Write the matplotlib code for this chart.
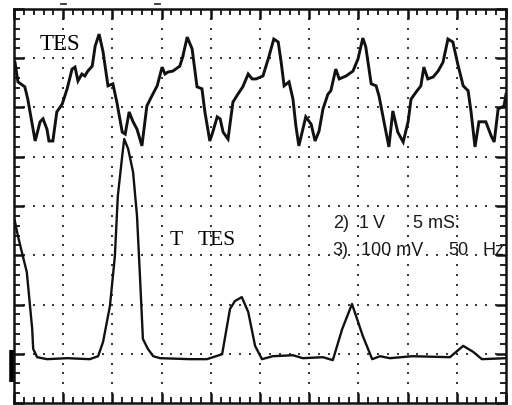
import numpy as np
import matplotlib.pyplot as plt
from matplotlib.ticker import MultipleLocator

# Oscilloscope screen: 10 x 8 divisions, 5 ms/div
# channel 2 (TES) - upper trace, in divisions
tes_t = [0.00, 0.02, 0.08, 0.22, 0.28, 0.43, 0.53, 0.59, 0.67, 0.71, 0.79, 0.87, 0.98,
         1.08, 1.18, 1.24, 1.30, 1.38, 1.44, 1.50, 1.59, 1.65, 1.73, 1.81, 1.91, 2.01,
         2.09, 2.20, 2.26, 2.34, 2.42, 2.50, 2.60, 2.70, 2.80, 2.91, 3.01, 3.07, 3.13,
         3.23, 3.37, 3.43, 3.52, 3.62, 3.72, 3.82, 3.88, 3.98, 4.04, 4.13, 4.19, 4.25,
         4.35, 4.45, 4.55, 4.65, 4.76, 4.84, 4.92, 5.06, 5.18, 5.28, 5.37, 5.43, 5.49,
         5.59, 5.67, 5.73, 5.79, 5.93, 6.04, 6.12, 6.20, 6.28, 6.38, 6.44, 6.54, 6.61,
         6.75, 6.89, 6.99, 7.09, 7.15, 7.26, 7.36, 7.42, 7.52, 7.62, 7.70, 7.80, 7.91,
         8.01, 8.07, 8.17, 8.27, 8.33, 8.41, 8.52, 8.62, 8.72, 8.82, 8.92, 9.02, 9.13,
         9.23, 9.29, 9.37, 9.45, 9.59, 9.70, 9.76, 9.84, 9.96, 10.00]
tes_v = [6.94, 6.92, 6.52, 6.42, 6.17, 5.32, 5.71, 5.77, 5.56, 5.32, 5.32, 5.91, 6.07,
         6.38, 6.78, 6.82, 6.54, 6.68, 6.64, 6.74, 6.84, 7.25, 7.49, 7.13, 6.44, 6.48,
         6.11, 5.50, 5.46, 5.91, 5.71, 5.56, 5.22, 6.03, 6.23, 6.44, 6.82, 6.68, 6.72,
         6.74, 6.84, 7.03, 7.43, 7.19, 6.42, 6.38, 5.91, 5.32, 5.50, 5.81, 5.77, 5.50,
         5.36, 6.11, 6.27, 6.42, 6.68, 6.58, 6.58, 6.64, 7.03, 7.39, 7.33, 6.92, 6.44,
         6.52, 6.17, 5.62, 5.22, 5.81, 5.66, 5.32, 5.52, 5.97, 6.27, 6.34, 6.78, 6.58,
         6.64, 6.74, 6.98, 7.41, 7.23, 6.48, 6.44, 6.23, 5.71, 5.20, 5.93, 5.50, 5.30,
         5.71, 6.17, 6.31, 6.44, 6.82, 6.58, 6.62, 6.74, 6.92, 7.39, 7.33, 6.88, 6.44,
         6.34, 5.91, 5.20, 5.71, 5.71, 5.42, 5.30, 5.97, 6.03, 6.27]

# channel 3 (T TES) - lower trace, in divisions
ttes_t = [0.00, 0.02, 0.08, 0.18, 0.26, 0.37, 0.39, 0.47, 0.67, 1.08, 1.54, 1.71, 1.81,
          1.95, 2.05, 2.11, 2.20, 2.24, 2.32, 2.42, 2.50, 2.56, 2.62, 2.72, 2.83, 2.97,
          3.58, 3.92, 4.23, 4.39, 4.49, 4.63, 4.76, 4.90, 5.04, 5.26, 5.67, 5.87, 6.28,
          6.48, 6.67, 6.87, 7.09, 7.28, 7.44, 7.64, 8.09, 8.86, 9.13, 9.33, 9.51, 10.00]
ttes_v = [3.75, 3.68, 3.39, 2.98, 2.66, 1.50, 1.10, 0.93, 0.89, 0.91, 0.89, 0.95, 1.24,
          1.97, 2.98, 4.20, 5.02, 5.36, 5.16, 4.69, 3.80, 2.58, 1.30, 1.10, 0.95, 0.91,
          0.89, 0.89, 0.99, 1.91, 2.07, 2.15, 1.85, 1.16, 0.89, 0.95, 0.97, 0.91, 0.93,
          0.87, 1.50, 2.01, 1.36, 0.89, 0.95, 0.91, 0.95, 0.93, 1.16, 1.04, 0.89, 0.91]

fig = plt.figure(figsize=(5.12, 4.05), dpi=100)
ax = fig.add_axes([14 / 512, 2 / 405, 492 / 512, 394 / 405])
ax.set_xlim(0, 10)
ax.set_ylim(0, 8)

# dotted graticule
gx, gy = [], []
for k in range(1, 10):
    for y in np.arange(0.2, 8.0, 0.2):
        gx.append(k)
        gy.append(y)
for k in range(1, 8):
    for x in np.arange(0.2, 10.0, 0.2):
        gx.append(x)
        gy.append(k)
ax.scatter(gx, gy, s=3.0, marker='s', color='#3a3a3a', linewidths=0, zorder=1)

ax.plot(tes_t, tes_v, color='#111111', lw=2.1, solid_joinstyle='miter', zorder=3)
ax.plot(ttes_t, ttes_v, color='#111111', lw=1.7, zorder=3)

# frame ticks
ax.xaxis.set_major_locator(MultipleLocator(1))
ax.xaxis.set_minor_locator(MultipleLocator(0.2))
ax.yaxis.set_major_locator(MultipleLocator(1))
ax.yaxis.set_minor_locator(MultipleLocator(0.2))
ax.tick_params(which='both', direction='in', top=True, right=True,
               labelbottom=False, labelleft=False, color='#111111')
ax.tick_params(which='major', length=7, width=1.8)
ax.tick_params(which='minor', length=4.5, width=1.3)
for s in ax.spines.values():
    s.set_linewidth(1.8)
    s.set_color('#111111')

# channel ground marker and trigger marks
ax.plot([-0.05, -0.05], [0.43, 1.08], color='black', lw=4, clip_on=False,
        solid_capstyle='butt')
for xm in [1.0, 2.91]:
    ax.plot([xm - 0.05, xm + 0.05], [8.11, 8.11], color='#333333', lw=1.3,
            clip_on=False)

# labels
ax.text(0.53, 7.17, 'TES', family='Liberation Serif', fontsize=16.5, color='black')
ax.text(3.17, 3.21, 'T', family='Liberation Serif', fontsize=15.5, color='black')
ax.text(3.73, 3.21, 'TES', family='Liberation Serif', fontsize=15.5, color='black')

sans = dict(family='Liberation Sans', fontsize=13, color='#1a1a1a')
ax.text(6.48, 3.55, '2)', **sans)
ax.text(7.01, 3.55, '1', **sans)
ax.text(7.30, 3.55, 'V', **sans)
ax.text(8.11, 3.55, '5 mS:', **sans)
ax.text(6.48, 3.01, '3)', **sans)
ax.text(7.05, 3.01, '100 mV', **sans)
ax.text(8.82, 3.01, '50', **sans)
ax.text(9.53, 3.01, 'Hz', **sans)

fig.savefig('out.png', dpi=100)
